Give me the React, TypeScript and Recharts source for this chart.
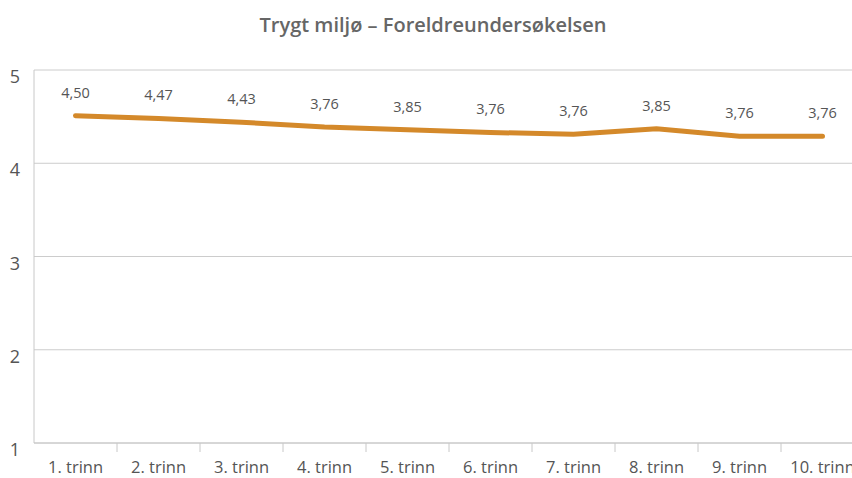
import React from "react";
import { LineChart, Line, XAxis, YAxis, CartesianGrid, LabelList } from "recharts";

const categories = ["1. trinn", "2. trinn", "3. trinn", "4. trinn", "5. trinn", "6. trinn", "7. trinn", "8. trinn", "9. trinn", "10. trinn"];
const values = [4.51, 4.48, 4.44, 4.39, 4.36, 4.33, 4.31, 4.37, 4.29, 4.29];
const labels = ["4,50", "4,47", "4,43", "3,76", "3,85", "3,76", "3,76", "3,85", "3,76", "3,76"];
const yTicks = [1, 2, 3, 4, 5];
const title = "Trygt miljø – Foreldreundersøkelsen";

const data = categories.map((c, i) => ({ name: c, value: values[i], label: labels[i] }));

const FONT = "'Open Sans', sans-serif";

const XTick = (props: any) => {
  const { x, payload } = props;
  const half = 41.5;
  return (
    <g>
      <line x1={x + half} x2={x + half} y1={443} y2={452} stroke="#c8c8c8" strokeWidth={1} />
      <text x={x} y={473} textAnchor="middle" fontSize={16.5} fill="#555" fontFamily={FONT}>
        {payload.value}
      </text>
    </g>
  );
};

const YTick = (props: any) => {
  const { y, payload } = props;
  return (
    <text x={15} y={y + 13} textAnchor="middle" fontSize={18} fill="#555" fontFamily={FONT}>
      {payload.value}
    </text>
  );
};

export default function App() {
  return (
    <div style={{ position: "fixed", top: 0, left: 0, width: 852, height: 478, overflow: "hidden", background: "#fff" }}>
      <div
        style={{
          position: "absolute",
          top: 11,
          left: 0,
          width: 866,
          textAlign: "center",
          fontFamily: FONT,
          fontSize: 20,
          fontWeight: 600,
          color: "#666",
        }}
      >
        {title}
      </div>
      <LineChart width={864} height={478} data={data} margin={{ top: 70, right: 0, bottom: 0, left: 0 }}>
        <CartesianGrid vertical={false} stroke="#cccccc" />
        <XAxis
          dataKey="name"
          height={35}
          padding={{ left: 41.5, right: 41.5 }}
          axisLine={{ stroke: "#c8c8c8" }}
          tickLine={false}
          tick={<XTick />}
          interval={0}
        />
        <YAxis
          width={34}
          domain={[1, 5]}
          ticks={yTicks}
          axisLine={{ stroke: "#c8c8c8" }}
          tickLine={false}
          tick={<YTick />}
        />
        <Line
          type="linear"
          dataKey="value"
          stroke="#d4892a"
          strokeWidth={5}
          strokeLinecap="round"
          dot={false}
          activeDot={false}
          isAnimationActive={false}
        >
          <LabelList dataKey="label" position="top" offset={18} fontSize={14.5} fill="#555" fontFamily={FONT} />
        </Line>
      </LineChart>
    </div>
  );
}
